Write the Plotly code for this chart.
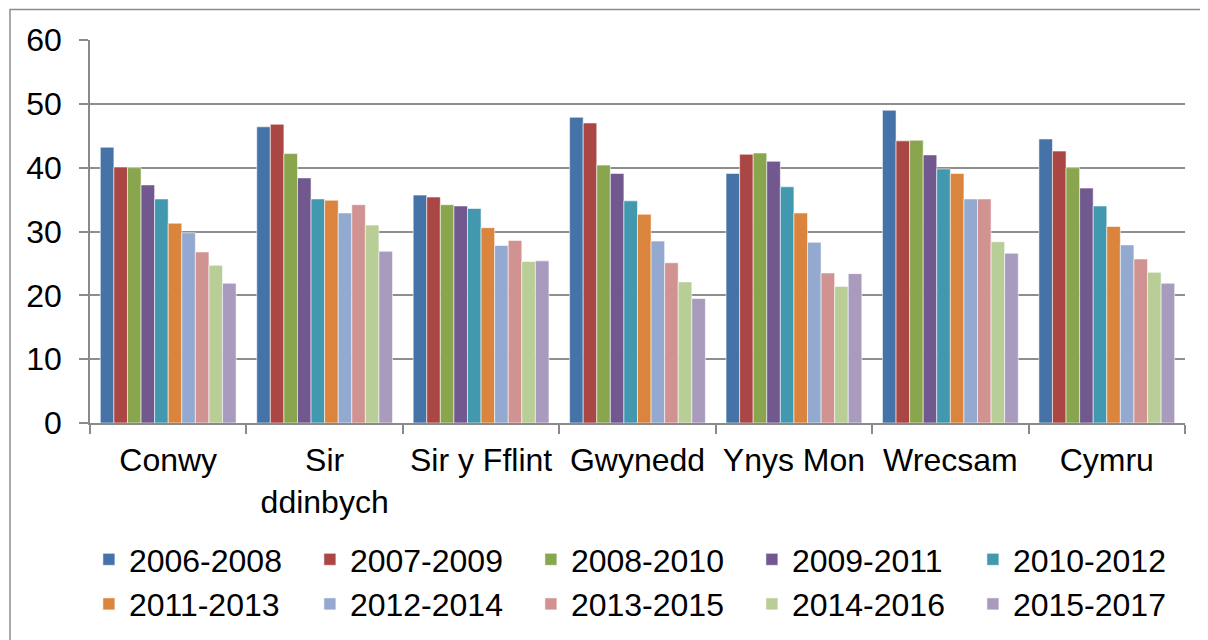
import plotly.graph_objects as go

categories = ["Conwy", "Sir<br>ddinbych", "Sir y Fflint", "Gwynedd", "Ynys Mon", "Wrecsam", "Cymru"]
periods = ["2006-2008", "2007-2009", "2008-2010", "2009-2011", "2010-2012",
           "2011-2013", "2012-2014", "2013-2015", "2014-2016", "2015-2017"]

s2006_2008 = [43.2, 46.4, 35.7, 47.9, 39.1, 49.0, 44.5]
s2007_2009 = [40.1, 46.8, 35.4, 47.0, 42.1, 44.2, 42.6]
s2008_2010 = [40.0, 42.2, 34.2, 40.4, 42.3, 44.3, 40.0]
s2009_2011 = [37.3, 38.4, 34.0, 39.1, 41.0, 42.0, 36.8]
s2010_2012 = [35.1, 35.1, 33.6, 34.8, 37.0, 39.8, 34.0]
s2011_2013 = [31.3, 34.9, 30.6, 32.7, 32.9, 39.1, 30.8]
s2012_2014 = [29.8, 32.9, 27.8, 28.5, 28.3, 35.1, 27.9]
s2013_2015 = [26.8, 34.2, 28.6, 25.1, 23.5, 35.1, 25.7]
s2014_2016 = [24.7, 31.0, 25.3, 22.1, 21.4, 28.4, 23.6]
s2015_2017 = [21.9, 26.9, 25.4, 19.5, 23.4, 26.6, 21.9]

series = [s2006_2008, s2007_2009, s2008_2010, s2009_2011, s2010_2012,
          s2011_2013, s2012_2014, s2013_2015, s2014_2016, s2015_2017]
colors = ["#4572A7", "#AA4643", "#89A54E", "#71588F", "#4198AF",
          "#DB843D", "#93A9CF", "#D19392", "#B9CD96", "#A99BBD"]

FONT = "Liberation Sans, Arial, sans-serif"
FS = 32

fig = go.Figure()
for name, vals, col in zip(periods, series, colors):
    fig.add_trace(go.Bar(
        x=categories, y=vals, name=name,
        marker=dict(color=col, line=dict(color="rgba(255,255,255,0.7)", width=0.8)),
    ))

# page body has an 8px margin, so the figure is laid out 8px in from the window edges
W, H = 1200, 632
L, R, T, B = 82, 23, 32, 217
pw = W - L - R
ph = H - T - B
y_bottom = H - B

fig.update_layout(
    width=W, height=H,
    margin=dict(l=L, r=R, t=T, b=B, pad=0, autoexpand=False),
    paper_bgcolor="white", plot_bgcolor="white",
    barmode="group", bargap=0.132, bargroupgap=0,
    font=dict(family=FONT, size=FS, color="#000000"),
    showlegend=True,
    legend=dict(
        orientation="h", x=-0.001, xanchor="left",
        y=(y_bottom - 524) / ph, yanchor="top",
        entrywidth=176, entrywidthmode="pixels",
        font=dict(family=FONT, size=FS, color="#000000"),
        bgcolor="rgba(0,0,0,0)", itemclick=False,
    ),
    xaxis=dict(
        type="category", showline=True, linecolor="#8a8a8a", linewidth=1.5,
        ticks="outside", tickson="boundaries", ticklen=9, tickcolor="#8a8a8a", tickwidth=1.5,
        showgrid=False, tickfont=dict(family=FONT, size=FS, color="#000000"),
        ticklabelstandoff=8, automargin=False,
    ),
    yaxis=dict(
        range=[0, 60], dtick=10, showline=True, linecolor="#8a8a8a", linewidth=1.5,
        ticks="outside", ticklen=9, tickcolor="#8a8a8a", tickwidth=1.5,
        showgrid=True, gridcolor="#8e8e8e", gridwidth=1.5, zeroline=False,
        tickfont=dict(family=FONT, size=FS, color="#000000"),
        ticklabelstandoff=11, automargin=False,
    ),
    shapes=[dict(
        type="rect", xref="paper", yref="paper",
        x0=(2 - L) / pw, x1=(1230 - L) / pw,
        y0=(y_bottom - 660) / ph, y1=(y_bottom - 1.5) / ph,
        line=dict(color="#8c8c8c", width=1.5), fillcolor="rgba(0,0,0,0)", layer="below",
    )],
)

fig.write_html("out.html")
